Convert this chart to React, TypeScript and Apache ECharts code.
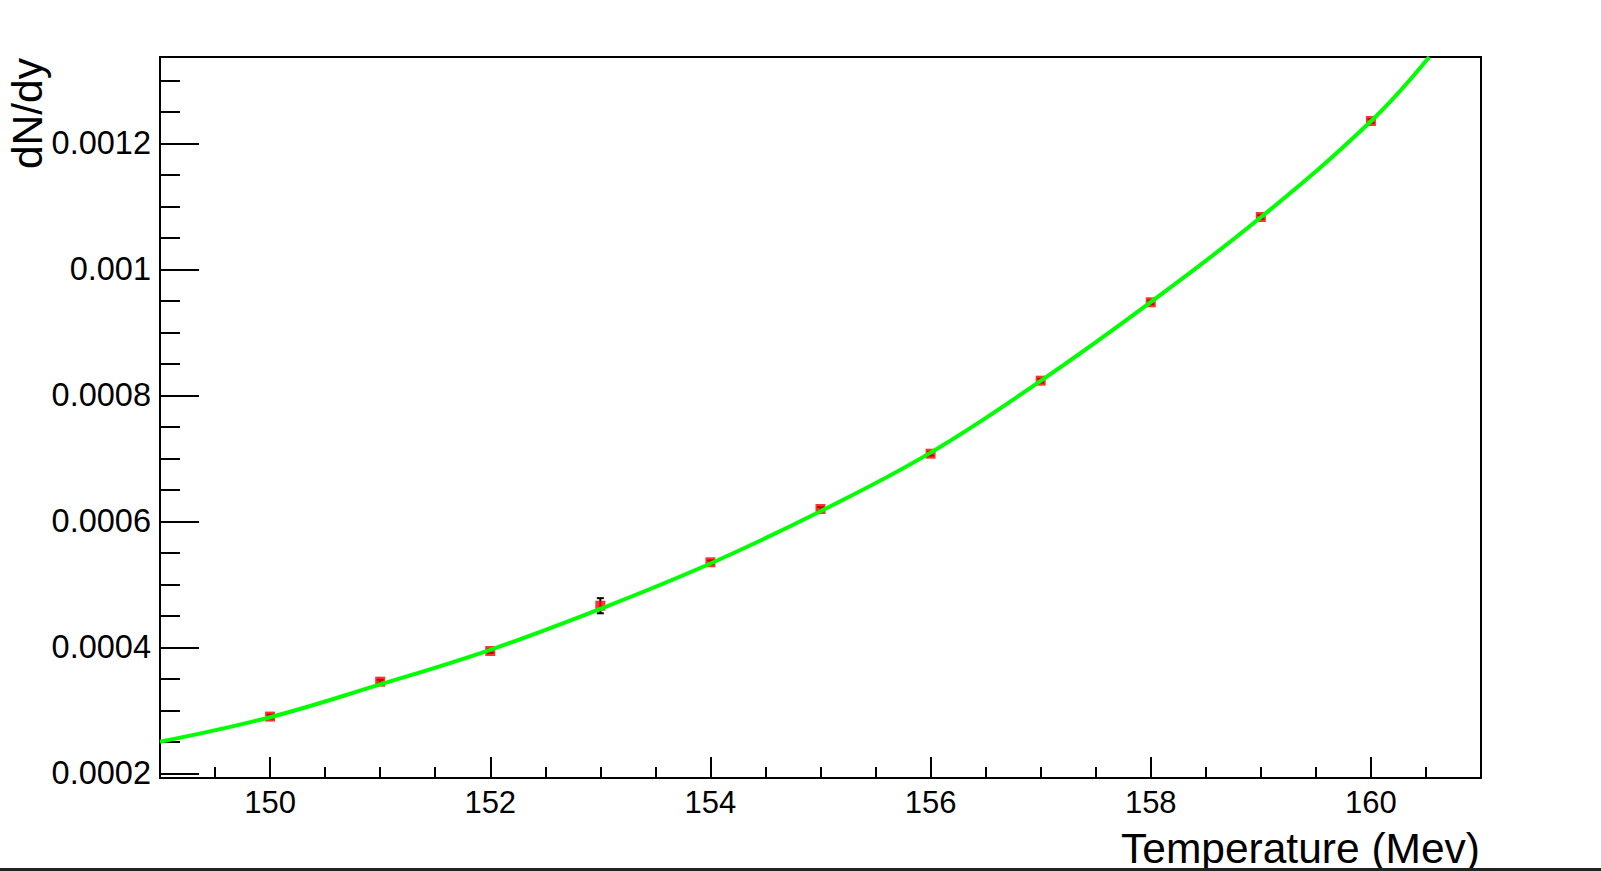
import React, { useEffect, useRef } from "react";
import * as echarts from "echarts";

// Measured points (Temperature in MeV, dN/dy) and their errors
const temperatures = [150, 151, 152, 153, 154, 155, 156, 157, 158, 159, 160];
const dndyValues = [
  0.00029, 0.0003454, 0.0003941, 0.000466, 0.0005349, 0.0006195, 0.0007073,
  0.0008232, 0.0009476, 0.001083, 0.0012354,
];
const dndyErrors = [
  0.000003, 0.000003, 0.000003, 0.000012, 0.000003, 0.000003, 0.000003,
  0.000003, 0.000003, 0.000003, 0.000003,
];

// Fit curve
const fitTemperatures = [149, 150, 151, 152, 153, 154, 155, 156, 157, 158, 159, 160, 160.53];
const fitValues = [
  0.00025, 0.000289, 0.000341, 0.000396, 0.000461, 0.000533, 0.000616, 0.000709,
  0.000823, 0.000948, 0.0010825, 0.001235, 0.001337,
];

const xMin = 149;
const xMax = 161;
const yMin = 0.0001925;
const yMax = 0.001337;

const xTitle = "Temperature (Mev)";
const yTitle = "dN/dy";

const FONT = "'Liberation Sans', Arial, Helvetica, sans-serif";

export default function App() {
  const ref = useRef<HTMLDivElement>(null);

  useEffect(() => {
    if (!ref.current) return;
    const chart = echarts.init(ref.current, undefined, { renderer: "svg" });

    const points = temperatures.map((t, i) => [t, dndyValues[i]]);
    const errData = temperatures.map((t, i) => [t, dndyValues[i], dndyErrors[i]]);
    const fitData = fitTemperatures.map((t, i) => [t, fitValues[i]]);

    const option: any = {
      animation: false,
      backgroundColor: "#ffffff",
      grid: {
        left: 160,
        right: 120,
        top: 57,
        bottom: 93,
        show: true,
        borderColor: "#000",
        borderWidth: 2,
        backgroundColor: "transparent",
      },
      xAxis: {
        type: "value",
        min: xMin,
        max: xMax,
        splitNumber: 5,
        axisLine: { show: true, onZero: false, lineStyle: { color: "#000", width: 2 } },
        axisTick: { show: true, inside: true, length: 21, lineStyle: { color: "#000", width: 2 } },
        minorTick: { show: true, splitNumber: 4, length: 11, lineStyle: { color: "#000", width: 2 } },
        splitLine: { show: false },
        axisLabel: {
          show: true,
          margin: 9,
          color: "#000",
          fontSize: 31,
          fontFamily: FONT,
          showMinLabel: false,
          showMaxLabel: false,
        },
      },
      yAxis: {
        type: "value",
        min: yMin,
        max: yMax,
        splitNumber: 5,
        axisLine: { show: true, onZero: false, lineStyle: { color: "#000", width: 2 } },
        axisTick: { show: true, inside: true, length: 39, lineStyle: { color: "#000", width: 2 } },
        minorTick: { show: true, splitNumber: 4, length: 20, lineStyle: { color: "#000", width: 2 } },
        splitLine: { show: false },
        axisLabel: {
          show: true,
          margin: 9,
          color: "#000",
          fontSize: 32.5,
          fontFamily: FONT,
          showMinLabel: false,
          showMaxLabel: false,
        },
      },
      series: [
        {
          type: "custom",
          name: "errors",
          z: 1,
          data: errData,
          encode: { x: 0, y: 1 },
          renderItem: (params: any, api: any) => {
            const x = api.value(0);
            const y = api.value(1);
            const e = api.value(2);
            const top = api.coord([x, y + e]);
            const bot = api.coord([x, y - e]);
            const cap = 3.5;
            const style = { stroke: "#000", lineWidth: 2 };
            return {
              type: "group",
              children: [
                { type: "line", shape: { x1: top[0], y1: top[1], x2: bot[0], y2: bot[1] }, style },
                { type: "line", shape: { x1: top[0] - cap, y1: top[1], x2: top[0] + cap, y2: top[1] }, style },
                { type: "line", shape: { x1: bot[0] - cap, y1: bot[1], x2: bot[0] + cap, y2: bot[1] }, style },
              ],
            };
          },
        },
        {
          type: "scatter",
          name: "data",
          z: 2,
          symbol: "rect",
          symbolSize: [10, 10],
          itemStyle: { color: "#ff0000" },
          data: points,
        },
        {
          type: "line",
          name: "fit",
          z: 3,
          smooth: 0.4,
          showSymbol: false,
          symbol: "none",
          clip: true,
          lineStyle: { color: "#00ff00", width: 4 },
          data: fitData,
        },
      ],
      graphic: [
        {
          type: "text",
          x: 1480,
          y: 848.5,
          style: {
            text: xTitle,
            fontSize: 42.5,
            fontFamily: FONT,
            fill: "#000",
            align: "right",
            verticalAlign: "middle",
          },
          z: 10,
        },
        {
          type: "text",
          x: 27,
          y: 58,
          rotation: Math.PI / 2,
          style: {
            text: yTitle,
            fontSize: 42.5,
            fontFamily: FONT,
            fill: "#000",
            align: "right",
            verticalAlign: "middle",
          },
          z: 10,
        },
        {
          type: "rect",
          shape: { x: 0, y: 868, width: 1601, height: 3 },
          style: { fill: "#222" },
          z: 20,
        },
      ],
    };

    chart.setOption(option);
    return () => {
      chart.dispose();
    };
  }, []);

  return (
    <div
      ref={ref}
      style={{ position: "fixed", left: 0, top: 0, width: 1601, height: 871, background: "#fff" }}
    />
  );
}
